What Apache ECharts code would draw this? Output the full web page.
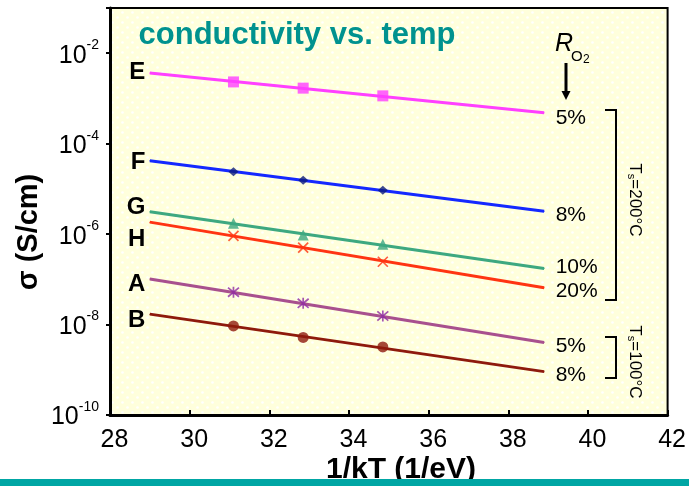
<!DOCTYPE html>
<html>
<head>
<meta charset="utf-8">
<script src="https://cdn.jsdelivr.net/npm/echarts@6/dist/echarts.min.js"></script>
<style>
html,body{margin:0;padding:0;background:#fff;}
#chart{width:689px;height:486px;}
</style>
</head>
<body>
<div id="chart"></div>
<script>
// ---- data ----
const xFit = [29, 38.9];                 // 1/kT range of fitted lines
const xMarks = [31.1, 32.85, 34.85];     // 1/kT of measured points
const sampleNames = ['E', 'F', 'G', 'H', 'A', 'B'];
const ratioLabels = ['5%', '8%', '10%', '20%', '5%', '8%'];
const fitE = [3.67e-3, 4.8e-4];
const fitF = [4.17e-5, 3.2e-6];
const fitG = [3.11e-6, 1.74e-7];
const fitH = [1.84e-6, 6.5e-8];
const fitA = [1.02e-7, 4.0e-9];
const fitB = [1.7e-8, 9.1e-10];
const markE = [2.32e-3, 1.69e-3, 1.14e-3];
const markF = [2.4e-5, 1.55e-5, 9.3e-6];
const markG = [1.74e-6, 9.5e-7, 6.0e-7];
const markH = [9.1e-7, 5.0e-7, 2.45e-7];
const markA = [5.2e-8, 2.95e-8, 1.55e-8];
const markB = [9.3e-9, 5.2e-9, 3.2e-9];
const yTickValues = [1e-10, 1e-8, 1e-6, 1e-4, 1e-2];
const title = 'conductivity vs. temp';

// ---- styles ----
const FONT = '"Liberation Sans", Arial, sans-serif';
const fits = [fitE, fitF, fitG, fitH, fitA, fitB];
const marks = [markE, markF, markG, markH, markA, markB];
const lineColors = ['#FF3FFF', '#1428FF', '#3DA880', '#FF3412', '#A8508E', '#8E1A0C'];
const markColors = ['#FF3FFF', '#0C1C7C', '#3DA880', '#FF3412', '#8E2AA2', '#8E1A0C'];
const crossPath = 'path://M0,0L10,10M10,0L0,10';
const starPath = 'path://M0,0L10,10M10,0L0,10M5,-1L5,11';
const symbols = ['rect', 'diamond', 'triangle', crossPath, starPath, 'circle'];
const symbolSizes = [11, [10, 9], 11, 10, 11, 11];
const leftOffsets = [-1, 2, -4, 17, 5, 6];
const rightOffsets = [5, 4, -1, 3, 4, 4];

const series = [];
fits.forEach((f, i) => {
  series.push({
    type: 'line',
    z: 3,
    symbol: 'circle',
    symbolSize: 1,
    showSymbol: true,
    itemStyle: { color: lineColors[i] },
    lineStyle: { color: lineColors[i], width: 3 },
    data: [
      { value: [xFit[0], f[0]], label: { show: true, position: 'left', distance: 4, offset: [0, leftOffsets[i]],
        formatter: sampleNames[i], color: '#000', fontFamily: FONT, fontWeight: 'bold', fontSize: 24 } },
      { value: [xFit[1], f[1]], label: { show: true, position: 'right', distance: 11, offset: [0, rightOffsets[i]],
        formatter: ratioLabels[i], color: '#000', fontFamily: FONT, fontSize: 21 } }
    ],
    silent: true
  });
  const isPath = i === 3 || i === 4;
  series.push({
    type: 'scatter',
    z: 4,
    symbol: symbols[i],
    symbolSize: symbolSizes[i],
    itemStyle: isPath ? { color: 'none', borderColor: markColors[i], borderWidth: 1.7 } : { color: markColors[i] },
    data: xMarks.map((x, j) => [x, marks[i][j]]),
    silent: true
  });
});

// dotted background pattern
const pc = document.createElement('canvas');
pc.width = 10; pc.height = 10;
const pctx = pc.getContext('2d');
pctx.fillStyle = '#FFFFDC';
pctx.fillRect(0, 0, 10, 10);
pctx.fillStyle = '#FFFFFF';
[[2.5, 2.5], [7.5, 7.5]].forEach(p => { pctx.beginPath(); pctx.arc(p[0], p[1], 1.3, 0, Math.PI * 2); pctx.fill(); });

const chart = echarts.init(document.getElementById('chart'), null, { renderer: 'canvas' });
chart.setOption({
  animation: false,
  backgroundColor: '#fff',
  grid: {
    left: 110, top: 8, right: 21, bottom: 71,
    show: true, borderColor: '#000', borderWidth: 2,
    backgroundColor: { image: pc, repeat: 'repeat' }
  },
  xAxis: {
    type: 'value', min: 28, max: 42, interval: 2,
    axisLine: { show: true, lineStyle: { color: '#000', width: 3 } },
    axisTick: { show: true, inside: true, length: 5, lineStyle: { color: '#000', width: 2 } },
    splitLine: { show: false },
    axisLabel: { color: '#000', fontFamily: FONT, fontSize: 25, margin: 13, padding: [0, 0, 0, 9] }
  },
  yAxis: {
    type: 'log', logBase: 10, min: 1e-10, max: 1e-1, interval: 2,
    axisLine: { show: true, lineStyle: { color: '#000', width: 3 } },
    axisTick: { show: true, inside: false, length: 4, lineStyle: { color: '#000', width: 2 } },
    splitLine: { show: false },
    minorTick: { show: false },
    axisLabel: {
      margin: 11,
      formatter: v => {
        const e = Math.round(Math.log10(v));
        if (!yTickValues.some(t => Math.abs(Math.log10(t) - e) < 1e-6)) return '';
        return '{b|10}{e|' + e + '}';
      },
      rich: {
        b: { fontFamily: FONT, fontSize: 25, color: '#000', lineHeight: 30, verticalAlign: 'bottom' },
        e: { fontFamily: FONT, fontSize: 14, color: '#000', verticalAlign: 'top', lineHeight: 30 }
      }
    }
  },
  series: series,
  graphic: [
    { type: 'text', z: 10, style: { text: title, x: 297, y: 35, textAlign: 'center', textVerticalAlign: 'middle',
      font: 'bold 31px ' + FONT, fill: '#00928F' } },
    { type: 'text', z: 10, style: { text: 'R', x: 555, y: 44, textVerticalAlign: 'middle',
      font: 'italic 25px ' + FONT, fill: '#000' } },
    { type: 'text', z: 10, style: { text: 'O', x: 571, y: 57, textVerticalAlign: 'middle',
      font: '15px ' + FONT, fill: '#000' } },
    { type: 'text', z: 10, style: { text: '2', x: 583, y: 60, textVerticalAlign: 'middle',
      font: '12px ' + FONT, fill: '#000' } },
    { type: 'line', z: 10, shape: { x1: 566, y1: 63, x2: 566, y2: 93 }, style: { stroke: '#000', lineWidth: 3 } },
    { type: 'polygon', z: 10, shape: { points: [[561.5, 91], [570.5, 91], [566, 100]] }, style: { fill: '#000' } },
    { type: 'polyline', z: 10, shape: { points: [[605, 110], [616, 110], [616, 300], [605, 300]] },
      style: { stroke: '#000', lineWidth: 2, fill: null } },
    { type: 'polyline', z: 10, shape: { points: [[605, 337], [616, 337], [616, 378], [605, 378]] },
      style: { stroke: '#000', lineWidth: 2, fill: null } },
    { type: 'text', z: 10, x: 635, y: 200, rotation: -Math.PI / 2, style: {
      text: '{t|T}{s|s}{t|=200°C}', textAlign: 'center', textVerticalAlign: 'middle',
      rich: { t: { font: '17px ' + FONT, fill: '#000', lineHeight: 19, verticalAlign: 'middle' },
              s: { font: '11px ' + FONT, fill: '#000', lineHeight: 19, verticalAlign: 'bottom' } } } },
    { type: 'text', z: 10, x: 635, y: 362, rotation: -Math.PI / 2, style: {
      text: '{t|T}{s|s}{t|=100°C}', textAlign: 'center', textVerticalAlign: 'middle',
      rich: { t: { font: '17px ' + FONT, fill: '#000', lineHeight: 19, verticalAlign: 'middle' },
              s: { font: '11px ' + FONT, fill: '#000', lineHeight: 19, verticalAlign: 'bottom' } } } },
    { type: 'text', z: 10, x: 29, y: 232, rotation: Math.PI / 2, style: {
      text: 'σ (S/cm)', textAlign: 'center', textVerticalAlign: 'middle', font: 'bold 29px ' + FONT, fill: '#000' } },
    { type: 'text', z: 10, style: { text: '1/kT (1/eV)', x: 401, y: 470, textAlign: 'center', textVerticalAlign: 'middle',
      font: 'bold 30px ' + FONT, fill: '#000' } },
    { type: 'rect', z: 20, shape: { x: 0, y: 479, width: 689, height: 7 }, style: { fill: '#00A6A4' } }
  ]
});
</script>
</body>
</html>
